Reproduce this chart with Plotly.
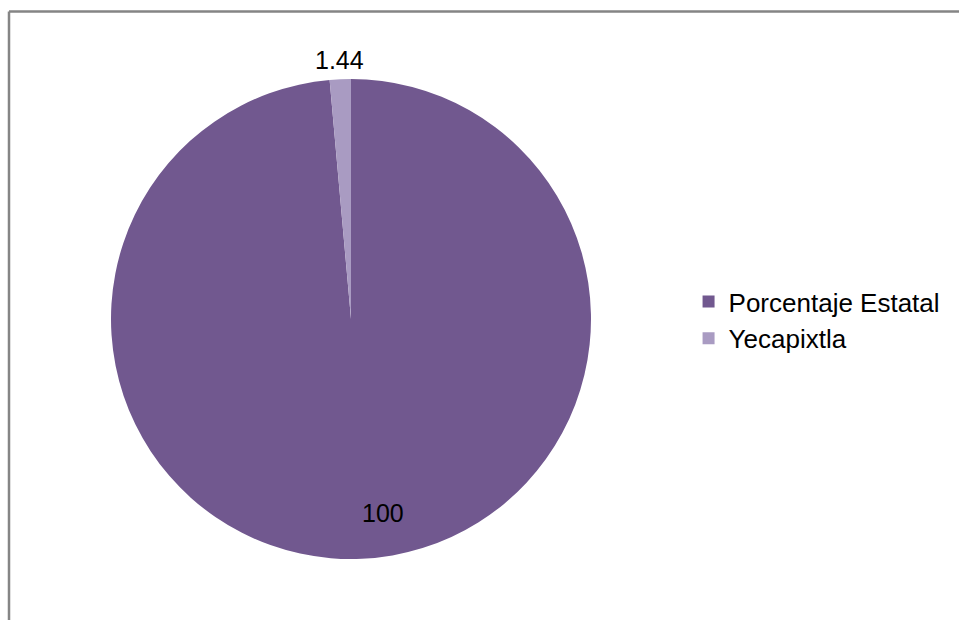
import plotly.graph_objects as go

labels = ["Porcentaje Estatal", "Yecapixtla"]
values = [100, 1.44]
colors = ["#71588F", "#A99BC2"]

W, H = 959, 620
# label anchor points (pixels) for the value labels
label_px = [(383, 513), (339, 60)]

fig = go.Figure()
fig.add_trace(go.Pie(
    labels=labels,
    values=values,
    textinfo="none",
    marker=dict(colors=colors, line=dict(width=0)),
    sort=False,
    direction="clockwise",
    rotation=0,
    hole=0,
    domain=dict(x=[111/W, 591/W], y=[1-559/H, 1-79/H]),
))

annotations = []
for v, (px, py) in zip(values, label_px):
    annotations.append(dict(
        x=px/W, y=1-py/H, xref="paper", yref="paper",
        text=str(v), showarrow=False, xanchor="center", yanchor="middle",
        font=dict(family="Liberation Sans, Arial", size=25, color="#000000"),
    ))

fig.update_layout(
    width=W, height=H,
    margin=dict(l=0, r=0, t=0, b=0),
    paper_bgcolor="#FFFFFF",
    plot_bgcolor="#FFFFFF",
    showlegend=True,
    legend=dict(
        x=0.718, y=1-320/H, xanchor="left", yanchor="middle",
        itemwidth=30,
        font=dict(family="Liberation Sans, Arial", size=26, color="#000000"),
        bgcolor="rgba(0,0,0,0)",
    ),
    annotations=annotations,
    shapes=[
        dict(type="line", xref="paper", yref="paper", x0=9/W, x1=1.2, y0=1-11.5/H, y1=1-11.5/H,
             line=dict(color="#858585", width=2.5)),
        dict(type="line", xref="paper", yref="paper", x0=9/W, x1=9/W, y0=1-11.5/H, y1=-0.2,
             line=dict(color="#858585", width=2.5)),
    ],
)

fig.write_html("out.html", config={"displayModeBar": False},
               post_script="document.body.style.margin='0';")
